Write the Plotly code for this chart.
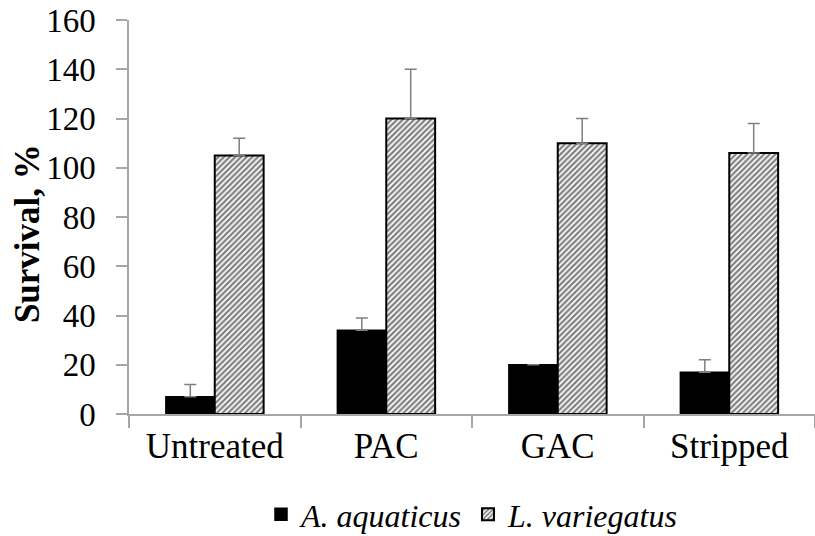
import plotly.graph_objects as go

treatments = ["Untreated", "PAC", "GAC", "Stripped"]
aquaticus_mean = [7, 34, 20, 17]
aquaticus_err = [5, 5, None, 5]
variegatus_mean = [105, 120, 110, 106]
variegatus_err = [7, 20, 10, 12]
y_ticks = [0, 20, 40, 60, 80, 100, 120, 140, 160]

serif = "Liberation Serif, Times New Roman, serif"
axis_gray = "#a6a6a6"
err_gray = "#7f7f7f"

fig = go.Figure()
fig.add_trace(go.Bar(
    x=treatments, y=aquaticus_mean, name="<i>A. aquaticus</i>",
    marker=dict(color="black", line=dict(color="black", width=1.5)),
    error_y=dict(type="data", array=aquaticus_err, symmetric=False,
                 arrayminus=[0] * 4, color=err_gray, thickness=1.5, width=6),
))
fig.add_trace(go.Bar(
    x=treatments, y=variegatus_mean, name="<i>L. variegatus</i>",
    marker=dict(color="white", line=dict(color="black", width=2),
                pattern=dict(shape="/", fgcolor="black", bgcolor="white",
                             size=4, solidity=0.55)),
    error_y=dict(type="data", array=variegatus_err, symmetric=False,
                 arrayminus=[0] * 4, color=err_gray, thickness=1.5, width=6),
))

fig.update_layout(
    width=815, height=536,
    margin=dict(l=129, r=0, t=20, b=122),
    paper_bgcolor="white", plot_bgcolor="white",
    barmode="group", bargap=0.43, bargroupgap=0,
    font=dict(family=serif, color="black", size=30),
    showlegend=True,
    legend=dict(orientation="h", x=0.5, xanchor="center",
                yref="container", y=0.04, yanchor="middle",
                font=dict(family=serif, size=32),
                itemwidth=30, traceorder="normal"),
    annotations=[dict(
        text="<b>Survival, %</b>", textangle=-90,
        xref="paper", yref="paper", x=-0.147, y=0.457,
        xanchor="center", yanchor="middle", showarrow=False,
        font=dict(family=serif, size=35, color="black"),
    )],
)
fig.update_xaxes(
    type="category", showline=True, linecolor=axis_gray, linewidth=1.5,
    ticks="outside", tickson="boundaries", ticklen=12, tickcolor=axis_gray,
    tickwidth=1.5, tickfont=dict(family=serif, size=35), showgrid=False,
    ticklabelstandoff=0, automargin=False,
)
fig.update_yaxes(
    range=[0, 160], tickvals=y_ticks, showline=True, linecolor=axis_gray,
    linewidth=1.5, ticks="outside", ticklen=11, tickcolor=axis_gray,
    tickwidth=1.5, showgrid=False, zeroline=False, automargin=False,
    tickfont=dict(family=serif, size=33), ticklabelstandoff=14,
)

fig.write_html("out.html")
